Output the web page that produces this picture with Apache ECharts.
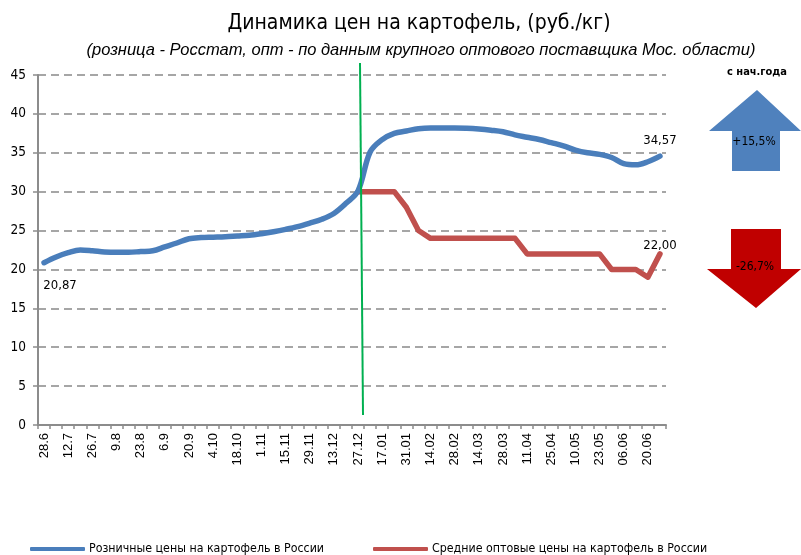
<!DOCTYPE html>
<html><head><meta charset="utf-8">
<script src="https://cdn.jsdelivr.net/npm/echarts@6/dist/echarts.min.js"></script>
<style>html,body{margin:0;padding:0;background:#fff}#c{width:801px;height:555px}</style>
</head><body><div id="c"></div>
<script>
var categories = ['28.6','5.7','12.7','19.7','26.7','2.8','9.8','16.8','23.8','30.8','6.9','13.9','20.9','27.9','4.10','11.10','18.10','25.10','1.11','8.11','15.11','22.11','29.11','6.12','13.12','20.12','27.12','10.01','17.01','24.01','31.01','07.02','14.02','21.02','28.02','07.03','14.03','21.03','28.03','04.04','11.04','18.04','25.04','02.05','10.05','16.05','23.05','30.05','06.06','13.06','20.06','27.06'];
var retail = [20.87,21.6,22.15,22.5,22.4,22.25,22.2,22.2,22.3,22.4,22.9,23.4,23.95,24.1,24.15,24.2,24.3,24.4,24.6,24.85,25.15,25.5,25.95,26.45,27.2,28.5,30.1,35.1,36.7,37.5,37.8,38.1,38.2,38.2,38.2,38.15,38.05,37.9,37.7,37.3,37.0,36.7,36.3,35.9,35.35,35.0,34.8,34.4,33.6,33.45,33.85,34.57];
var wholesale = [null,null,null,null,null,null,null,null,null,null,null,null,null,null,null,null,null,null,null,null,null,null,null,null,null,null,30,30,30,30,28,25,24,24,24,24,24,24,24,24,22,22,22,22,22,22,22,20,20,20,19,22];
var seriesNames = ['Розничные цены на картофель в России','Средние оптовые цены на картофель в России'];
var titleText = 'Динамика цен на картофель, (руб./кг)';
var subtitleText = '(розница - Росстат, опт - по данным крупного оптового поставщика Мос. области)';
var changeHeader = 'с нач.года';
var changeRetail = '+15,5%';
var changeWholesale = '-26,7%';

var NARROW = '"DejaVu Sans Condensed", "Liberation Sans", sans-serif';

function fmt(v){ return v.toFixed(2).replace('.', ','); }

function withEndLabels(arr, first, lastDist){
  var last = arr.length - 1;
  return arr.map(function(v,i){
    if (v == null) return v;
    if (i === last) return {value:v, label:{show:true, position:'top', distance:lastDist, formatter:fmt(v)}};
    if (first && i === 0) return {value:v, label:{show:true, position:'bottom', distance:16, offset:[16,0], formatter:fmt(v)}};
    return v;
  });
}

var chart = echarts.init(document.getElementById('c'), null, {renderer:'canvas'});
chart.setOption({
  animation:false,
  backgroundColor:'#fff',
  title:[
    {text:titleText, left:414, top:8, textAlign:'center', textStyle:{fontFamily:NARROW, fontSize:21, fontWeight:'normal', color:'#000'}},
    {text:subtitleText, left:416, top:37, textAlign:'center', textStyle:{fontFamily:'"Liberation Sans", sans-serif', fontSize:16.5, fontStyle:'italic', fontWeight:'normal', color:'#000'}}
  ],
  grid:{left:38, right:135, top:75, bottom:130, containLabel:false},
  legend:{
    left:30, top:543, padding:0, itemWidth:55, itemHeight:4, itemGap:49,
    icon:'roundRect',
    textStyle:{fontFamily:NARROW, fontSize:12.3, color:'#000', padding:[0,0,0,-1]},
    data:seriesNames
  },
  xAxis:{
    type:'category', data:categories, boundaryGap:true,
    axisLine:{lineStyle:{color:'#8c8c8c', width:2}},
    axisTick:{show:true, interval:0, alignWithLabel:false, length:4, lineStyle:{color:'#8c8c8c', width:1.5}},
    axisLabel:{interval:1, rotate:90, margin:8, fontFamily:'"Liberation Sans", sans-serif', fontSize:13, color:'#000'},
    splitLine:{show:false}
  },
  yAxis:{
    type:'value', min:0, max:45, interval:5,
    axisLine:{show:true, lineStyle:{color:'#8c8c8c', width:2}},
    axisTick:{show:true, length:5, lineStyle:{color:'#8c8c8c', width:1.5}},
    axisLabel:{margin:12, fontFamily:NARROW, fontSize:13.5, color:'#000'},
    splitLine:{show:true, lineStyle:{color:'#a6a6a6', width:2, type:[8,5]}}
  },
  series:[
    {name:seriesNames[0], type:'line', data:withEndLabels(retail, true, 9), smooth:0.35,
     showSymbol:true, symbol:'circle', symbolSize:0, itemStyle:{color:'#4a7ebb'},
     lineStyle:{color:'#4a7ebb', width:5.5, cap:'round', join:'round'},
     label:{show:false, fontFamily:NARROW, fontSize:13, color:'#000'}, z:3},
    {name:seriesNames[1], type:'line', data:withEndLabels(wholesale, false, 2), smooth:false,
     showSymbol:true, symbol:'circle', symbolSize:0, itemStyle:{color:'#c0504d'},
     lineStyle:{color:'#c0504d', width:5.5, cap:'round', join:'round'},
     label:{show:false, fontFamily:NARROW, fontSize:13, color:'#000'}, z:2}
  ],
  graphic:[
    {type:'line', shape:{x1:360, y1:63, x2:363, y2:415}, style:{stroke:'#00b050', lineWidth:2}, z:10},
    {type:'text', x:757, y:72, style:{text:changeHeader, textAlign:'center', textVerticalAlign:'middle', fontFamily:NARROW, fontSize:11, fontWeight:'bold', fill:'#000'}},
    {type:'polygon', shape:{points:[[757,90],[801,131],[780,131],[780,171],[732,171],[732,131],[709,131]]}, style:{fill:'#4f81bd'}},
    {type:'text', x:754, y:142, style:{text:changeRetail, textAlign:'center', textVerticalAlign:'middle', fontFamily:NARROW, fontSize:12, fill:'#000'}},
    {type:'polygon', shape:{points:[[731,229],[781,229],[781,269],[801,269],[756,308],[707,269],[731,269]]}, style:{fill:'#c00000'}},
    {type:'text', x:755, y:267, style:{text:changeWholesale, textAlign:'center', textVerticalAlign:'middle', fontFamily:NARROW, fontSize:12, fill:'#000'}}
  ]
});
</script></body></html>
